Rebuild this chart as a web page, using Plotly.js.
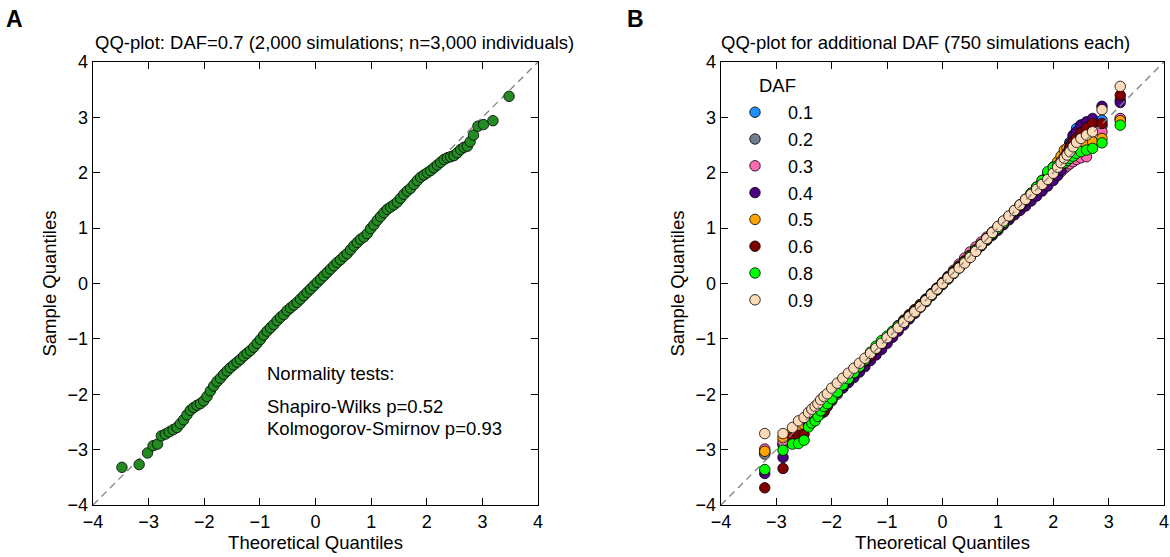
<!DOCTYPE html>
<html>
<head>
<meta charset="utf-8">
<script src="https://cdn.plot.ly/plotly-3.0.1.min.js"></script>
<style>html,body{margin:0;padding:0;background:#fff;}#chart{width:1170px;height:557px;}</style>
</head>
<body>
<div id="chart"></div>
<script>
// ---------- Panel A data (DAF = 0.7) ----------
const theoQA = [-3.48,-3.17,-3.02,-2.92,-2.84,-2.77,-2.70,-2.63,-2.56,-2.49,-2.43,-2.37,-2.31,-2.25,-2.19,-2.13,-2.07,-2.01,-1.95,-1.89,-1.83,-1.77,-1.71,-1.65,-1.59,-1.53,-1.47,-1.41,-1.35,-1.29,-1.23,-1.17,-1.11,-1.05,-0.99,-0.93,-0.87,-0.81,-0.75,-0.69,-0.63,-0.57,-0.51,-0.45,-0.39,-0.33,-0.27,-0.21,-0.15,-0.09,-0.03,0.03,0.09,0.15,0.21,0.27,0.33,0.39,0.45,0.51,0.57,0.63,0.69,0.75,0.81,0.87,0.93,0.99,1.05,1.11,1.17,1.23,1.29,1.35,1.41,1.47,1.53,1.59,1.65,1.71,1.77,1.83,1.89,1.95,2.01,2.07,2.13,2.19,2.25,2.31,2.37,2.43,2.49,2.55,2.61,2.67,2.73,2.78,2.84,2.92,3.02,3.19,3.48];
const sampleQA = [-3.32,-3.27,-3.06,-2.93,-2.90,-2.75,-2.72,-2.68,-2.64,-2.60,-2.53,-2.46,-2.37,-2.29,-2.24,-2.20,-2.17,-2.12,-2.04,-1.94,-1.85,-1.77,-1.71,-1.64,-1.58,-1.52,-1.47,-1.42,-1.37,-1.31,-1.26,-1.21,-1.15,-1.08,-1.01,-0.93,-0.86,-0.80,-0.74,-0.67,-0.61,-0.56,-0.49,-0.44,-0.39,-0.34,-0.28,-0.22,-0.16,-0.10,-0.04,0.02,0.08,0.14,0.20,0.26,0.32,0.38,0.43,0.49,0.54,0.61,0.68,0.74,0.80,0.84,0.90,0.99,1.06,1.14,1.21,1.28,1.34,1.38,1.42,1.47,1.54,1.61,1.67,1.72,1.79,1.86,1.92,1.96,2.00,2.04,2.09,2.14,2.19,2.24,2.27,2.29,2.31,2.36,2.42,2.46,2.48,2.56,2.68,2.84,2.87,2.94,3.38];

// ---------- Panel B data (750 simulations each) ----------
const theoQB = [-3.21,-2.88,-2.71,-2.60,-2.50,-2.42,-2.36,-2.30,-2.25,-2.20,-2.14,-2.08,
  -2.0,-1.9,-1.8,-1.7,-1.6,-1.5,-1.4,-1.3,-1.2,-1.1,-1.0,-0.9,-0.8,-0.7,-0.6,-0.5,-0.4,-0.3,-0.2,-0.1,0.0,0.1,0.2,0.3,0.4,0.5,0.6,0.7,0.8,0.9,1.0,1.1,1.2,1.3,1.4,1.5,1.6,1.7,1.8,1.9,2.0,
  2.08,2.14,2.20,2.25,2.30,2.36,2.42,2.50,2.60,2.71,2.88,3.21];
const dafLabels = ["0.1","0.2","0.3","0.4","0.5","0.6","0.8","0.9"];
const dafColors = ["#1E90FF","#708090","#FF69B4","#4B0082","#FFA500","#800000","#00FF00","#FFDAB9"];
const sampleQ_01 = [-3.05,-2.92,-2.78,-2.70,-2.60,-2.50,-2.42,-2.36,-2.30,-2.24,-2.18,-2.14,
  -2.09,-1.98,-1.86,-1.75,-1.64,-1.53,-1.42,-1.32,-1.21,-1.10,-1.00,-0.90,-0.80,-0.70,-0.60,-0.50,-0.40,-0.30,-0.20,-0.10,0.00,0.10,0.20,0.30,0.40,0.50,0.60,0.70,0.80,0.90,0.99,1.09,1.18,1.28,1.38,1.48,1.58,1.69,1.80,1.92,2.03,
  2.13,2.22,2.32,2.42,2.55,2.68,2.80,2.86,2.90,2.95,2.95,3.32];
const sampleQ_02 = [-3.08,-2.90,-2.75,-2.65,-2.56,-2.47,-2.40,-2.34,-2.28,-2.22,-2.16,-2.10,
  -2.03,-1.93,-1.82,-1.72,-1.61,-1.51,-1.41,-1.31,-1.21,-1.11,-1.01,-0.91,-0.81,-0.71,-0.61,-0.51,-0.41,-0.31,-0.21,-0.11,-0.01,0.09,0.19,0.29,0.39,0.49,0.59,0.69,0.79,0.89,0.99,1.09,1.19,1.29,1.39,1.49,1.59,1.69,1.79,1.89,1.99,
  2.07,2.13,2.19,2.24,2.30,2.37,2.45,2.54,2.64,2.74,2.85,2.97];
const sampleQ_03 = [-2.99,-2.85,-2.71,-2.68,-2.62,-2.53,-2.46,-2.40,-2.36,-2.33,-2.32,-2.22,
  -2.12,-2.00,-1.89,-1.78,-1.66,-1.55,-1.44,-1.33,-1.22,-1.11,-1.00,-0.89,-0.78,-0.68,-0.58,-0.48,-0.38,-0.28,-0.18,-0.08,0.02,0.13,0.24,0.35,0.46,0.57,0.66,0.75,0.84,0.93,1.02,1.11,1.20,1.29,1.38,1.47,1.56,1.65,1.73,1.82,1.90,
  1.96,2.02,2.08,2.12,2.16,2.20,2.24,2.27,2.29,2.47,2.74,2.98];
const sampleQ_04 = [-3.43,-3.14,-2.80,-2.72,-2.62,-2.52,-2.45,-2.39,-2.33,-2.27,-2.20,-2.14,
  -2.06,-1.97,-1.88,-1.79,-1.70,-1.60,-1.50,-1.39,-1.29,-1.19,-1.08,-0.97,-0.86,-0.75,-0.64,-0.54,-0.43,-0.33,-0.22,-0.12,-0.02,0.08,0.18,0.28,0.38,0.48,0.58,0.68,0.78,0.87,0.96,1.06,1.15,1.24,1.32,1.40,1.49,1.58,1.67,1.76,1.86,
  1.95,2.05,2.18,2.35,2.52,2.66,2.74,2.86,2.92,2.98,3.20,3.27];
const sampleQ_05 = [-3.03,-2.78,-2.67,-2.62,-2.55,-2.45,-2.37,-2.31,-2.25,-2.19,-2.13,-2.06,
  -1.98,-1.88,-1.78,-1.68,-1.58,-1.48,-1.38,-1.28,-1.18,-1.08,-0.98,-0.89,-0.79,-0.69,-0.59,-0.49,-0.39,-0.29,-0.19,-0.09,0.01,0.11,0.21,0.31,0.41,0.51,0.61,0.71,0.81,0.91,1.01,1.11,1.21,1.31,1.41,1.52,1.63,1.74,1.86,1.98,2.10,
  2.20,2.30,2.41,2.44,2.46,2.48,2.49,2.50,2.52,2.56,2.62,2.94];
const sampleQ_06 = [-3.69,-3.34,-2.76,-2.74,-2.72,-2.55,-2.47,-2.42,-2.38,-2.35,-2.30,-2.20,
  -2.10,-1.97,-1.84,-1.73,-1.62,-1.51,-1.40,-1.30,-1.19,-1.08,-0.97,-0.87,-0.76,-0.66,-0.56,-0.47,-0.38,-0.29,-0.19,-0.09,0.01,0.11,0.21,0.31,0.40,0.50,0.60,0.70,0.80,0.90,1.00,1.10,1.20,1.30,1.40,1.50,1.61,1.72,1.82,1.93,2.04,
  2.12,2.20,2.28,2.36,2.46,2.56,2.62,2.72,2.81,2.89,2.89,3.40];
const sampleQ_08 = [-3.36,-3.01,-2.90,-2.89,-2.83,-2.59,-2.52,-2.48,-2.40,-2.30,-2.22,-2.17,
  -2.08,-1.96,-1.83,-1.72,-1.61,-1.50,-1.38,-1.24,-1.13,-1.03,-0.95,-0.86,-0.77,-0.68,-0.59,-0.50,-0.41,-0.31,-0.21,-0.11,-0.01,0.09,0.19,0.29,0.39,0.49,0.60,0.70,0.80,0.90,1.00,1.10,1.21,1.31,1.42,1.52,1.63,1.74,1.86,2.02,2.10,
  2.13,2.15,2.18,2.22,2.26,2.30,2.35,2.38,2.41,2.44,2.54,2.86];
const sampleQ_09 = [-2.71,-2.71,-2.60,-2.48,-2.42,-2.33,-2.27,-2.22,-2.17,-2.10,-2.04,-1.99,
  -1.89,-1.80,-1.71,-1.62,-1.53,-1.44,-1.35,-1.26,-1.17,-1.08,-0.98,-0.89,-0.80,-0.70,-0.60,-0.51,-0.42,-0.31,-0.20,-0.10,0.00,0.10,0.19,0.28,0.37,0.47,0.58,0.70,0.81,0.92,1.03,1.13,1.22,1.32,1.42,1.52,1.61,1.70,1.79,1.88,1.99,
  2.10,2.18,2.26,2.32,2.38,2.47,2.55,2.62,2.68,2.74,3.14,3.56];
const sampleQB = [sampleQ_01,sampleQ_02,sampleQ_03,sampleQ_04,sampleQ_05,sampleQ_06,sampleQ_08,sampleQ_09];

// reference diagonal (y = x) over the axis range
const diagX = [-4, 4];
const diagY = [-4, 4];
const axisTicks = [-4,-3,-2,-1,0,1,2,3,4];

const FONT = "Liberation Sans, Arial, Helvetica, sans-serif";
const TXT = 18.5;
const traces = [];
// Panel A
traces.push({x: diagX, y: diagY, xaxis:'x', yaxis:'y', mode:'lines', showlegend:false, hoverinfo:'skip',
  line:{color:'#808080', width:1.3, dash:'7px,5px'}});
traces.push({x: theoQA, y: sampleQA, xaxis:'x', yaxis:'y', mode:'markers', type:'scatter', showlegend:false,
  marker:{size:10.5, color:'#228B22', line:{color:'#000', width:0.8}}});
// Panel B
dafLabels.forEach((lab, i) => {
  traces.push({x: theoQB, y: sampleQB[i], xaxis:'x2', yaxis:'y2', mode:'markers', type:'scatter',
    name: lab, legendgroup: 'g'+i,
    marker:{size:10.5, color: dafColors[i], line:{color:'#000', width:0.8}}});
});
traces.push({x: diagX, y: diagY, xaxis:'x2', yaxis:'y2', mode:'lines', showlegend:false, hoverinfo:'skip',
  line:{color:'#808080', width:1.3, dash:'7px,5px'}});

function ax(domain, anchor, title, standoff) {
  return {domain: domain, anchor: anchor, range:[-4,4], tickvals: axisTicks, ticks:'inside', ticklen:7, tickwidth:1,
    tickcolor:'#000', showline:true, linecolor:'#000', linewidth:1.3, mirror:'ticks', showgrid:false, zeroline:false,
    tickfont:{family:FONT, size:18, color:'#000'}, automargin:false,
    title:{text:title, font:{family:FONT, size:TXT, color:'#000'}, standoff:standoff}};
}

const layout = {
  width:1170, height:557, margin:{l:0,r:0,t:0,b:0}, paper_bgcolor:'#fff', plot_bgcolor:'#fff',
  xaxis: ax([93/1170, 538/1170], 'y', 'Theoretical Quantiles', 4),
  yaxis: ax([1-505/557, 1-62/557], 'x', 'Sample Quantiles', 6),
  xaxis2: ax([721/1170, 1164/1170], 'y2', 'Theoretical Quantiles', 4),
  yaxis2: ax([1-505/557, 1-62/557], 'x2', 'Sample Quantiles', 6),
  showlegend:true,
  legend:{x:722/1170, y:1-94/557, xanchor:'left', yanchor:'top', bgcolor:'rgba(0,0,0,0)', borderwidth:0,
    font:{family:FONT, size:18, color:'#000'}, traceorder:'grouped', tracegroupgap:0.4, itemwidth:56},
  annotations:[
    {xref:'paper', yref:'paper', x:4/1170, y:1-19/557, xanchor:'left', yanchor:'middle', showarrow:false,
     text:'<b>A</b>', font:{family:FONT, size:23, color:'#000'}},
    {xref:'paper', yref:'paper', x:625/1170, y:1-19/557, xanchor:'left', yanchor:'middle', showarrow:false,
     text:'<b>B</b>', font:{family:FONT, size:23, color:'#000'}},
    {xref:'paper', yref:'paper', x:93/1170, y:1-42/557, xanchor:'left', yanchor:'middle', showarrow:false,
     text:'QQ-plot: DAF=0.7 (2,000 simulations; n=3,000 individuals)', font:{family:FONT, size:TXT, color:'#000'}},
    {xref:'paper', yref:'paper', x:719/1170, y:1-42/557, xanchor:'left', yanchor:'middle', showarrow:false,
     text:'QQ-plot for additional DAF (750 simulations each)', font:{family:FONT, size:TXT, color:'#000'}},
    {xref:'paper', yref:'paper', x:757/1170, y:1-85/557, xanchor:'left', yanchor:'middle', showarrow:false,
     text:'DAF', font:{family:FONT, size:TXT, color:'#000'}},
    {xref:'paper', yref:'paper', x:265/1170, y:1-373/557, xanchor:'left', yanchor:'middle', showarrow:false,
     text:'Normality tests:', font:{family:FONT, size:TXT, color:'#000'}},
    {xref:'paper', yref:'paper', x:265/1170, y:1-406/557, xanchor:'left', yanchor:'middle', showarrow:false,
     text:'Shapiro-Wilks p=0.52', font:{family:FONT, size:TXT, color:'#000'}},
    {xref:'paper', yref:'paper', x:265/1170, y:1-428/557, xanchor:'left', yanchor:'middle', showarrow:false,
     text:'Kolmogorov-Smirnov p=0.93', font:{family:FONT, size:TXT, color:'#000'}}
  ]
};
Plotly.newPlot('chart', traces, layout, {staticPlot:true, displayModeBar:false});
</script>
</body>
</html>
